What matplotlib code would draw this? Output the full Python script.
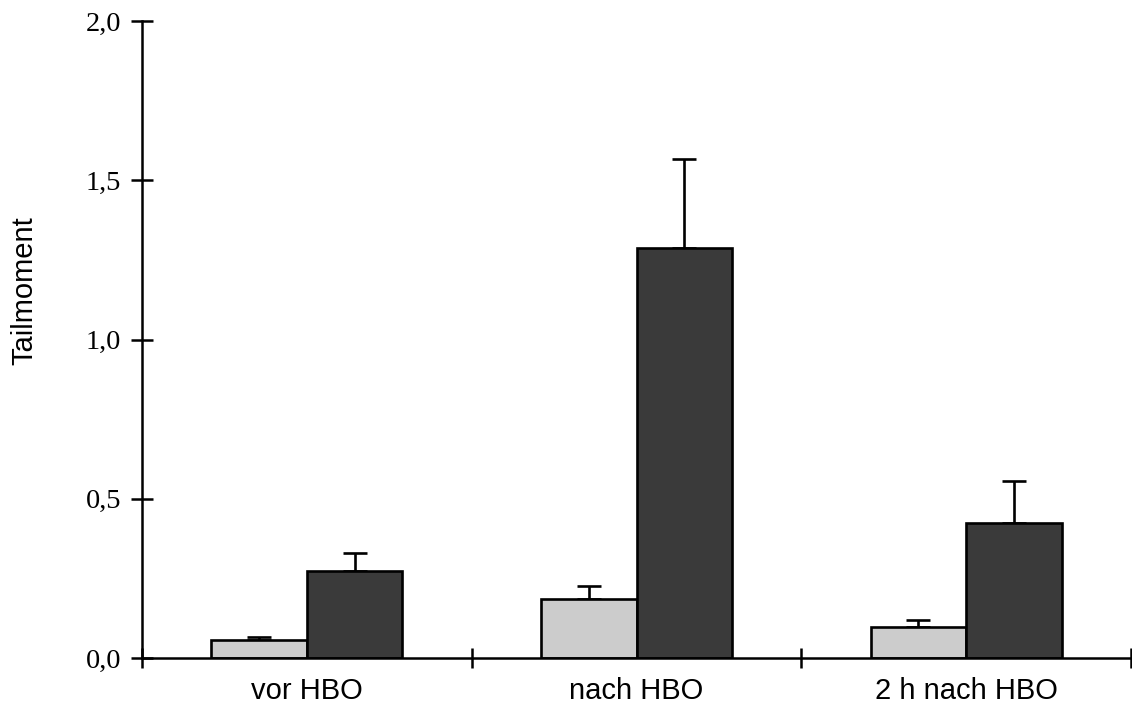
import matplotlib
matplotlib.use("Agg")
import matplotlib.pyplot as plt
import numpy as np

categories = ["vor HBO", "nach HBO", "2 h nach HBO"]
light_vals = [0.057, 0.185, 0.097]
light_err = [0.009, 0.041, 0.022]
dark_vals = [0.274, 1.287, 0.425]
dark_err = [0.055, 0.280, 0.131]
yticks = [0.0, 0.5, 1.0, 1.5, 2.0]
ytick_labels = ["0,0", "0,5", "1,0", "1,5", "2,0"]

fig = plt.figure(figsize=(11.32, 7.16), dpi=100)
ax = fig.add_axes([142/1132, 58/716, (1131-142)/1132, (658-21)/716])

x = np.arange(len(categories))
w = 0.29
lc = "#cccccc"
dc = "#3a3a3a"
lw = 1.9
ax.bar(x - w/2, light_vals, w, color=lc, edgecolor="black", linewidth=lw, zorder=2)
ax.bar(x + w/2, dark_vals, w, color=dc, edgecolor="black", linewidth=lw, zorder=2)
ax.errorbar(x - w/2, light_vals, yerr=[np.zeros(3), light_err], fmt="none",
            ecolor="black", elinewidth=lw, capsize=8.3, capthick=lw, zorder=1)
ax.errorbar(x + w/2, dark_vals, yerr=[np.zeros(3), dark_err], fmt="none",
            ecolor="black", elinewidth=lw, capsize=8.3, capthick=lw, zorder=1)

ax.set_xlim(-0.5, 2.5)
ax.set_ylim(0, 2.0)

for s in ["top", "right"]:
    ax.spines[s].set_visible(False)
for s in ["left", "bottom"]:
    ax.spines[s].set_linewidth(1.8)
    ax.spines[s].set_zorder(3)

ax.set_yticks(yticks)
ax.set_yticklabels(ytick_labels, fontfamily="Liberation Serif", fontsize=20.5)
ax.tick_params(axis="y", direction="inout", length=15.8, width=1.8, pad=7)

ax.set_xticks([-0.5, 0.5, 1.5, 2.5])
ax.set_xticklabels([])
ax.tick_params(axis="x", which="major", direction="inout", length=14.5, width=1.8)
ax.set_xticks(x, minor=True)
ax.set_xticklabels(categories, minor=True, fontfamily="Liberation Sans", fontsize=21)
ax.tick_params(axis="x", which="minor", length=0, pad=14)

fig.text(24/1132, 1 - 291/716, "Tailmoment", rotation=90, ha="center", va="center",
         fontfamily="Liberation Sans", fontsize=21)

fig.savefig("out.png", dpi=100)
